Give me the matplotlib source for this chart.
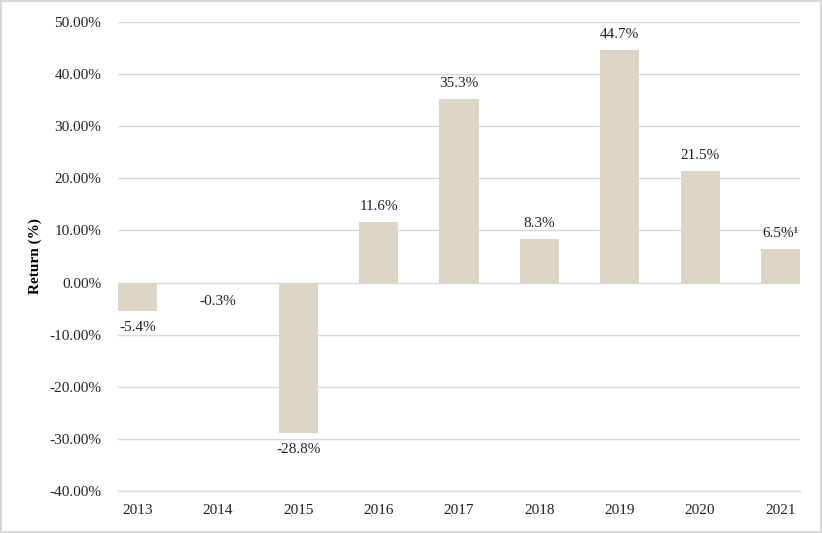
import matplotlib.pyplot as plt
from matplotlib.ticker import PercentFormatter
from matplotlib.patches import Rectangle

years = ["2013", "2014", "2015", "2016", "2017", "2018", "2019", "2020", "2021"]
returns = [-5.4, -0.3, -28.8, 11.6, 35.3, 8.3, 44.7, 21.5, 6.5]
labels = ["-5.4%", "-0.3%", "-28.8%", "11.6%", "35.3%", "8.3%", "44.7%", "21.5%", "6.5%\u00b9"]

plt.rcParams['font.family'] = ['Liberation Serif', 'DejaVu Serif']
plt.rcParams['axes.unicode_minus'] = False

fig = plt.figure(figsize=(8.22, 5.33), dpi=100)
ax = fig.add_axes([118 / 822, 42 / 533, 682 / 822, 469 / 533])

w = 0.486
x = range(len(years))
ax.bar(x, returns, width=w, color="#ddd5c3", zorder=3)

for i, (v, lab) in enumerate(zip(returns, labels)):
    if v >= 0:
        ax.text(i, v + 1.7, lab, ha="center", va="bottom", fontsize=11, color="#222222")
    else:
        ax.text(i, v - 2.0, lab, ha="center", va="top", fontsize=11, color="#222222")

ax.set_xlim(-w / 2, len(years) - 1 + w / 2)
ax.set_ylim(-40, 50)
ax.set_yticks(range(-40, 51, 10))
ax.yaxis.set_major_formatter(PercentFormatter(decimals=2))
ax.set_xticks(list(x))
ax.set_xticklabels(years)
ax.tick_params(length=0, labelsize=11, colors="#222222")
ax.tick_params(axis="y", pad=12)
ax.tick_params(axis="x", pad=9)
ax.set_axisbelow(True)
ax.grid(axis="y", color="#d9d9d9", linewidth=1)
for s in ax.spines.values():
    s.set_visible(False)
ax.axhline(-40, color="#d9d9d9", linewidth=1, clip_on=False, zorder=0)

ax.set_ylabel("Return (%)", fontweight="bold", fontsize=11, labelpad=5)

fig.patches.append(Rectangle((0.001, 0.001), 0.998, 0.998, transform=fig.transFigure,
                             fill=False, edgecolor="#d9d9d9", linewidth=1.5))

fig.savefig("out.png", dpi=100)
